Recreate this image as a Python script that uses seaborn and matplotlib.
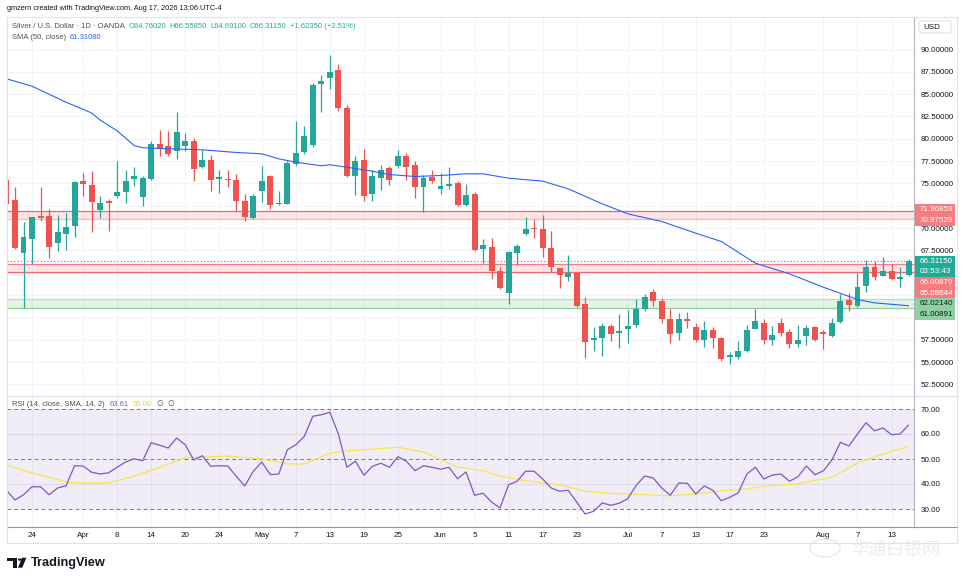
import numpy as np
import pandas as pd
import matplotlib
matplotlib.use("Agg")
import matplotlib.pyplot as plt
import matplotlib.transforms as mtransforms
from matplotlib.patches import Rectangle, Circle, Polygon, FancyBboxPatch
from matplotlib.lines import Line2D
import seaborn as sns

# -----------------------------
# Style
# -----------------------------
sns.set_style("white")
plt.rcParams['font.family'] = ['Liberation Sans', 'DejaVu Sans', 'Noto Sans CJK SC']

UP = "#26a69a"
DOWN = "#ef5350"
TXT = "#131722"
GREY = "#4a4e5a"
GRID = "#f0f3fa"
FRAME = "#e0e3eb"

# -----------------------------
# Data
# -----------------------------
dates = pd.bdate_range("2026-03-19", "2026-08-17").drop(pd.Timestamp("2026-04-03"))

opens = [75.41, 73.20, 67.19, 68.76, 71.41, 71.41, 68.35, 69.32, 70.22, 75.33,
         74.88, 72.01, 73.05, 73.65, 74.02, 75.48, 73.47, 75.48, 79.47, 79.25,
         78.62, 79.25, 79.81, 76.83, 77.64, 75.48, 75.48, 75.44, 73.09, 71.11,
         74.14, 75.78, 72.72, 72.68, 77.20, 78.50, 79.29, 86.16, 86.79, 87.65,
         83.50, 75.82, 77.68, 73.84, 75.63, 76.75, 76.93, 78.09, 77.08, 74.58,
         75.70, 74.36, 74.70, 75.07, 72.64, 73.84, 67.64, 67.94, 65.25, 62.75,
         67.23, 69.36, 69.96, 69.92, 67.79, 65.55, 64.51, 65.00, 61.52, 57.49,
         57.71, 59.02, 58.24, 58.72, 59.20, 60.89, 62.79, 61.89, 59.84, 58.24,
         59.84, 58.91, 57.49, 58.61, 57.67, 55.55, 55.55, 56.22, 58.65, 59.43,
         57.49, 59.43, 58.42, 57.04, 57.90, 58.98, 58.42, 57.90, 59.46, 61.97,
         61.33, 63.50, 65.62, 64.69, 65.25, 64.28, 64.76]
highs = [76.75, 74.58, 70.67, 71.25, 74.58, 72.16, 71.52, 71.67, 75.33, 76.15,
         76.34, 73.54, 73.28, 77.57, 76.56, 76.79, 75.78, 79.70, 81.04, 80.82,
         82.95, 80.63, 80.11, 78.76, 78.24, 76.56, 76.56, 76.08, 73.84, 73.84,
         76.93, 75.97, 74.14, 77.57, 82.05, 81.49, 86.23, 87.20, 89.33, 88.40,
         83.84, 78.13, 78.88, 76.56, 77.08, 77.01, 78.80, 78.39, 77.57, 75.97,
         76.56, 76.19, 76.89, 75.22, 74.96, 74.02, 68.80, 68.91, 65.62, 67.49,
         68.24, 71.30, 71.04, 71.49, 69.73, 65.55, 67.01, 65.07, 62.34, 58.98,
         59.43, 59.24, 60.40, 60.85, 62.01, 62.64, 63.16, 62.12, 60.89, 60.51,
         60.66, 59.32, 59.65, 58.91, 57.79, 56.18, 57.41, 59.17, 60.89, 59.80,
         59.09, 59.95, 58.72, 59.17, 59.20, 59.09, 58.61, 59.95, 62.64, 62.75,
         64.95, 66.45, 66.37, 66.74, 66.00, 65.62, 66.56]
lows = [65.70, 67.64, 61.01, 66.00, 70.85, 66.63, 67.42, 67.60, 68.99, 73.65,
        69.54, 71.11, 69.73, 73.35, 72.79, 74.77, 72.53, 75.37, 78.13, 78.09,
        77.72, 78.62, 75.33, 76.71, 74.21, 73.91, 74.58, 71.97, 70.78, 71.04,
        72.91, 72.16, 72.64, 72.68, 77.01, 78.32, 79.06, 82.98, 85.56, 83.09,
        75.70, 73.76, 73.02, 73.02, 74.32, 74.88, 76.75, 75.44, 73.39, 71.78,
        75.07, 73.84, 74.40, 72.53, 72.53, 67.49, 66.07, 64.32, 63.20, 61.52,
        65.92, 69.28, 68.87, 66.75, 65.07, 63.31, 64.13, 61.15, 55.47, 56.29,
        55.70, 57.34, 56.55, 57.12, 58.91, 60.77, 61.33, 59.39, 57.12, 57.49,
        58.79, 57.23, 56.74, 56.55, 55.17, 54.80, 55.36, 56.11, 58.65, 57.04,
        56.96, 57.97, 56.59, 56.74, 56.96, 57.34, 56.48, 57.86, 59.35, 60.77,
        61.15, 62.90, 64.21, 64.62, 64.21, 63.46, 64.69]
closes = [72.72, 67.79, 69.06, 71.19, 71.11, 67.87, 69.62, 70.07, 75.11, 74.96,
          72.87, 72.76, 72.83, 74.02, 75.22, 75.89, 75.56, 79.47, 78.88, 78.32,
          80.71, 79.70, 76.60, 77.64, 75.37, 75.67, 75.41, 73.02, 71.23, 73.65,
          75.33, 72.64, 72.79, 77.27, 78.43, 80.26, 86.04, 86.45, 87.46, 83.43,
          75.89, 77.57, 73.58, 75.78, 76.56, 75.41, 78.02, 76.82, 74.58, 75.59,
          75.22, 74.77, 74.96, 72.64, 73.76, 67.60, 68.13, 65.25, 63.31, 67.27,
          67.98, 69.92, 69.88, 67.79, 65.62, 64.77, 65.00, 61.33, 57.30, 57.71,
          59.09, 58.16, 58.46, 59.09, 60.89, 62.34, 61.89, 59.84, 58.12, 59.84,
          59.65, 57.42, 58.61, 57.67, 55.36, 55.84, 56.29, 58.61, 59.58, 57.49,
          58.05, 58.27, 57.04, 57.52, 58.83, 57.49, 58.09, 59.43, 61.89, 61.41,
          63.46, 65.62, 64.51, 65.25, 64.28, 64.58, 66.31]

# SMA(50) read at selected bars
sma_bars = [0, 3, 7, 10, 11, 13, 15, 16, 19, 23, 27, 30, 32, 34, 37, 38, 40, 43, 45,
            48, 51, 54, 56, 59, 63, 66, 70, 73, 77, 81, 84, 88, 92, 96, 100, 102, 106]
sma_vals = [86.72, 85.89, 84.10, 82.90, 82.10, 80.90, 79.25, 79.00, 78.88, 78.77, 78.47,
            78.32, 77.76, 77.38, 76.98, 77.09, 76.82, 76.37, 76.00, 75.78, 75.89, 76.08,
            76.08, 75.59, 75.26, 74.40, 72.72, 71.60, 70.74, 69.43, 68.50, 66.07, 64.88,
            63.38, 62.00, 61.63, 61.31]

rsi_vals = [37.5, 33.6, 35.7, 38.9, 38.9, 35.7, 38.4, 39.3, 47.3, 47.2,
            44.7, 44.0, 44.5, 46.7, 48.8, 50.1, 49.3, 56.5, 55.5, 54.4,
            58.4, 55.7, 49.6, 51.3, 47.1, 47.3, 47.2, 43.1, 39.2, 45.1,
            48.8, 43.7, 44.0, 53.7, 55.7, 59.1, 67.1, 67.7, 68.7, 60.0,
            46.7, 49.1, 43.5, 47.1, 48.3, 46.7, 50.9, 49.1, 45.3, 47.3,
            46.7, 45.9, 46.7, 42.1, 44.8, 35.5, 36.3, 32.8, 30.4, 39.7,
            41.1, 45.1, 45.1, 42.0, 38.4, 37.1, 37.5, 32.8, 28.0, 29.1,
            32.4, 31.5, 32.3, 34.1, 39.5, 43.2, 42.4, 38.4, 35.5, 40.4,
            40.3, 36.0, 39.2, 37.5, 33.3, 34.7, 36.5, 44.0, 46.7, 42.0,
            43.6, 44.0, 41.1, 42.9, 47.2, 43.7, 45.3, 49.7, 56.7, 55.2,
            60.0, 64.5, 61.3, 62.4, 59.7, 60.0, 63.6]

rsi_sma_bars = [0, 3, 7, 9, 12, 15, 18, 21, 24, 26, 30, 33, 35, 38, 40, 42, 46, 49, 51,
                53, 56, 58, 61, 65, 68, 71, 75, 78, 81, 84, 87, 89, 93, 97, 100, 103, 106]
rsi_sma_vals = [47.7, 44.4, 40.8, 40.4, 40.5, 43.1, 46.7, 50.4, 50.9, 51.2, 50.0, 48.1,
                48.0, 52.4, 53.3, 53.7, 54.7, 52.8, 49.7, 46.8, 45.3, 43.1, 41.3, 39.7,
                37.1, 36.3, 35.7, 35.3, 36.0, 37.3, 38.0, 39.1, 40.1, 42.7, 48.4, 52.0, 55.0]

tick_dates = ["2026-03-24", "2026-04-01", "2026-04-08", "2026-04-14", "2026-04-20",
              "2026-04-24", "2026-05-01", "2026-05-07", "2026-05-13", "2026-05-19",
              "2026-05-25", "2026-06-01", "2026-06-05", "2026-06-11", "2026-06-17",
              "2026-06-23", "2026-07-01", "2026-07-07", "2026-07-13", "2026-07-17",
              "2026-07-23", "2026-08-03", "2026-08-07", "2026-08-13"]
tick_labels = ["24", "Apr", "8", "14", "20", "24", "May", "7", "13", "19", "25", "Jun",
               "5", "11", "17", "23", "Jul", "7", "13", "17", "23", "Aug", "7", "13"]

price_ticks = [52.5, 55.0, 57.5, 60.0, 62.5, 65.0, 67.5, 70.0, 72.5, 75.0,
               77.5, 80.0, 82.5, 85.0, 87.5, 90.0]
hidden_ticks = [60.0, 62.5, 65.0, 72.5]   # covered by the price boxes
rsi_ticks = [30, 40, 50, 60, 70]

red_zone_hi = (70.97529, 71.96859)
red_zone_lo = (65.08644, 66.00879)
green_zone = (61.00891, 62.02140)
last_price = 66.31150
countdown = "03:53:43"

df = pd.DataFrame({"date": dates, "open": opens, "high": highs,
                   "low": lows, "close": closes, "rsi": rsi_vals})
df["i"] = np.arange(len(df))
tick_idx = [dates.get_loc(pd.Timestamp(d)) for d in tick_dates]

# -----------------------------
# Figure layout (pixels of the 964x582 image)
# -----------------------------
W, H = 964, 582
def fx(px):
    return px / W
def fy(py):
    return 1 - py / H

L, R = 7, 914
TOP, SEP, BOT = 17, 396, 526.5

fig = plt.figure(figsize=(W / 100, H / 100), dpi=100)
ax = fig.add_axes([fx(L), fy(SEP), fx(R) - fx(L), fy(TOP) - fy(SEP)])
rax = fig.add_axes([fx(L), fy(BOT), fx(R) - fx(L), fy(SEP) - fy(BOT)], sharex=ax)

# -----------------------------
# Price pane
# -----------------------------
for i in tick_idx:
    ax.axvline(i, color=GRID, lw=0.8, zorder=0)
    rax.axvline(i, color=GRID, lw=0.8, zorder=0)
for p in price_ticks:
    ax.axhline(p, color=GRID, lw=0.8, zorder=0)

# zones
ax.axhspan(*red_zone_hi, color="#f23645", alpha=0.13, lw=0, zorder=1)
ax.axhline(red_zone_hi[1], color="#f23645", alpha=0.75, lw=0.9, zorder=1)
ax.axhline(red_zone_hi[0], color="#f23645", alpha=0.35, lw=0.9, zorder=1)
ax.axhspan(*red_zone_lo, color="#f23645", alpha=0.13, lw=0, zorder=1)
ax.axhline(red_zone_lo[1], color="#f23645", alpha=0.6, lw=0.9, zorder=1)
ax.axhline(red_zone_lo[0], color="#f23645", alpha=0.75, lw=0.9, zorder=1)
ax.axhspan(*green_zone, color="#4caf50", alpha=0.14, lw=0, zorder=1)
ax.axhline(green_zone[1], color="#4caf50", alpha=0.3, lw=0.9, zorder=1)
ax.axhline(green_zone[0], color="#4caf50", alpha=0.6, lw=0.9, zorder=1)
ax.axhline(last_price, color=UP, ls=(0, (1, 2)), lw=0.8, zorder=1)

# candles
up = df["close"] >= df["open"]
colors = np.where(up, UP, DOWN)
ax.vlines(df["i"], df["low"], df["high"], colors=colors, lw=0.9, zorder=3)
body_lo = df[["open", "close"]].min(axis=1)
body_h = (df["close"] - df["open"]).abs().clip(lower=0.1)
ax.bar(df["i"], body_h, bottom=body_lo, width=0.7, color=colors, lw=0, zorder=4)

# SMA 50
sns.lineplot(x=sma_bars, y=sma_vals, ax=ax, color="#2962ff", lw=0.8, zorder=5)

ax.set_xlim(0.06, 106.64)
ax.set_ylim(51.20, 93.64)
ax.yaxis.tick_right()
ax.set_yticks(price_ticks)
ax.set_yticklabels(["" if p in hidden_ticks else f"{p:.5f}" for p in price_ticks])
ax.tick_params(axis="y", length=0, pad=5, labelsize=5.8, labelcolor=TXT)
ax.tick_params(axis="x", length=0, labelbottom=False)
ax.set_xlabel("")
ax.set_ylabel("")
for side in ["left", "top", "bottom"]:
    ax.spines[side].set_visible(False)
ax.spines["right"].set_color("#b2b5be")
ax.spines["right"].set_linewidth(0.8)

# right-axis price boxes
trans = mtransforms.blended_transform_factory(fig.transFigure, ax.transData)
row = 10.7 / 8.933
bx0, bx1 = fx(915), fx(955)

def price_box(yc, text, face, color="white", rows=1, extra=None):
    ax.add_patch(Rectangle((bx0, yc - row / 2 - (rows - 1) * row), bx1 - bx0, row * rows,
                           transform=trans, facecolor=face, edgecolor="none",
                           clip_on=False, zorder=8))
    ax.text(fx(920), yc, text, transform=trans, va="center", ha="left",
            fontsize=5.8, color=color, clip_on=False, zorder=9)
    if extra:
        ax.text(fx(920), yc - row, extra, transform=trans, va="center", ha="left",
                fontsize=5.8, color=color, clip_on=False, zorder=9)

mid = sum(red_zone_hi) / 2
price_box(mid + row / 2, f"{red_zone_hi[1]:.5f}", "#f77c80")
price_box(mid - row / 2, f"{red_zone_hi[0]:.5f}", "#f77c80")
price_box(last_price, f"{last_price:.5f}", "#22ab94", rows=2, extra=countdown)
price_box(last_price - 2 * row, f"{red_zone_lo[1]:.5f}", "#f77c80")
price_box(last_price - 3 * row, f"{red_zone_lo[0]:.5f}", "#f77c80")
price_box(last_price - 4 * row, f"{green_zone[1]:.5f}", "#8fd19e", color=TXT)
price_box(last_price - 5 * row, f"{green_zone[0]:.5f}", "#8fd19e", color=TXT)

# -----------------------------
# RSI pane
# -----------------------------
for g in [40, 60]:
    rax.axhline(g, color="#e6e9f0", lw=0.8, zorder=0)
rax.axhspan(30, 70, color="#7e57c2", alpha=0.1, lw=0, zorder=1)
for g in [30, 50, 70]:
    rax.axhline(g, color="#787b86", lw=0.7, ls=(0, (4, 3)), zorder=2)
sns.lineplot(x=df["i"], y=df["rsi"], ax=rax, color="#7e57c2", lw=0.9, zorder=4)
sns.lineplot(x=rsi_sma_bars, y=rsi_sma_vals, ax=rax, color="#fbe54a", lw=0.9, zorder=3)

rax.set_ylim(23.0, 75.2)
rax.yaxis.tick_right()
rax.set_yticks(rsi_ticks)
rax.set_yticklabels([f"{v:.2f}" for v in rsi_ticks])
rax.set_xticks(tick_idx)
rax.set_xticklabels(tick_labels)
rax.tick_params(axis="y", length=0, pad=5, labelsize=5.8, labelcolor=TXT)
rax.tick_params(axis="x", length=0, pad=4, labelsize=5.8, labelcolor=TXT)
rax.set_xlabel("")
rax.set_ylabel("")
for side in ["left", "top"]:
    rax.spines[side].set_visible(False)
rax.spines["right"].set_color("#b2b5be")
rax.spines["bottom"].set_color("#9598a1")
rax.spines["right"].set_linewidth(0.8)
rax.spines["bottom"].set_linewidth(0.8)

# -----------------------------
# Frame, separators
# -----------------------------
fig.add_artist(Rectangle((fx(7), fy(543)), fx(957) - fx(7), fy(17) - fy(543),
                         transform=fig.transFigure, fill=False, edgecolor=FRAME, lw=0.8))
fig.add_artist(Line2D([fx(7), fx(957)], [fy(SEP), fy(SEP)], transform=fig.transFigure,
                      color=FRAME, lw=0.9))
fig.add_artist(Line2D([fx(914), fx(957)], [fy(BOT), fy(BOT)], transform=fig.transFigure,
                      color="#9598a1", lw=0.8))

# USD box
fig.add_artist(FancyBboxPatch((fx(919), fy(33)), fx(951) - fx(919), fy(21) - fy(33),
                              boxstyle="round,pad=0,rounding_size=0.003",
                              transform=fig.transFigure, facecolor="white",
                              edgecolor=FRAME, lw=0.8))
fig.text(fx(923), fy(27.5), "USD", fontsize=5.8, color=TXT, va="center", ha="left")

# -----------------------------
# Legends / header
# -----------------------------
LEG = 5.5
renderer = fig.canvas.get_renderer()

def chain(x_px, y_px, parts, gap=4.0, size=LEG):
    x = x_px
    for s, c in parts:
        t = fig.text(fx(x), fy(y_px), s, fontsize=size, color=c, va="center", ha="left")
        x += t.get_window_extent(renderer=renderer).width + gap

fig.text(fx(7), fy(9), "gmzern created with TradingView.com, Aug 17, 2026 13:06 UTC-4",
         fontsize=5.3, color=TXT, va="center", ha="left")
chain(12, 26, [("Silver / U.S. Dollar · 1D · OANDA", GREY), ("O64.76020", UP),
               ("H66.55850", UP), ("L64.69100", UP), ("C66.31150", UP),
               ("+1.62350 (+2.51%)", UP)], gap=3.5)
chain(12, 37.5, [("SMA (50, close)", GREY), ("61.31080", "#2962ff")])
chain(12, 405, [("RSI (14, close, SMA, 14, 2)", GREY), ("63.61", "#7e57c2"),
                ("55.00", "#f0d200"), ("∅", GREY), ("∅", GREY)], gap=4.5)

# TradingView logo
fig.add_artist(Polygon([(fx(7.3), fy(557.7)), (fx(17.3), fy(557.7)), (fx(17.3), fy(567.7)),
                        (fx(12.7), fy(567.7)), (fx(12.7), fy(561.2)), (fx(7.3), fy(561.2))],
                       closed=True, transform=fig.transFigure, facecolor=TXT, lw=0))
fig.add_artist(Circle((fx(19.8), fy(559.6)), 1.9 / W, transform=fig.transFigure,
                      facecolor=TXT, lw=0))
fig.add_artist(Polygon([(fx(22.0), fy(557.7)), (fx(26.3), fy(557.7)), (fx(22.3), fy(567.7)),
                        (fx(18.0), fy(567.7))],
                       closed=True, transform=fig.transFigure, facecolor=TXT, lw=0))
fig.text(fx(31), fy(563), "TradingView", fontsize=9.2, fontweight="bold", color=TXT,
         va="center", ha="left")

# watermark (kept just below the date labels)
fig.add_artist(Circle((fx(825), fy(548)), 15 / W, transform=fig.transFigure,
                      fill=False, edgecolor="#dcdcdc", lw=1.2, alpha=0.5))
fig.text(fx(850), fy(550), "华通白银网", fontsize=13, color="#dcdcdc", alpha=0.5,
         va="center", ha="left", family=["Noto Sans CJK SC", "DejaVu Sans"], zorder=0)

fig.savefig("out.png", dpi=100)
